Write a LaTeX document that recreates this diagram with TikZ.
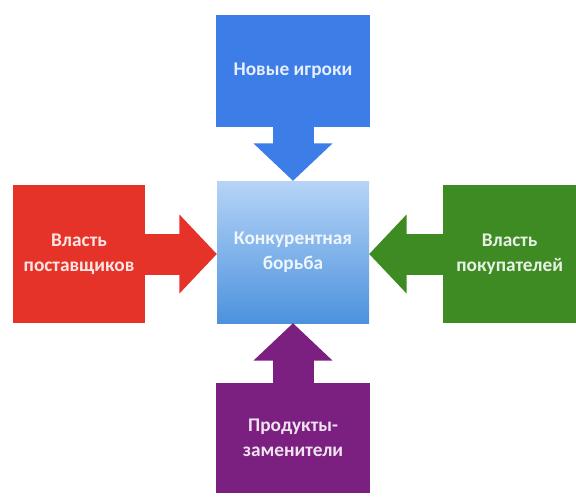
\documentclass[tikz,border=0pt]{standalone}
\usepackage{fontspec}
\setmainfont{Carlito}
\usepackage{tikz}
\usetikzlibrary{arrows.meta,positioning,calc,backgrounds}
\definecolor{newblue}{RGB}{60,125,232}
\definecolor{supred}{RGB}{230,51,41}
\definecolor{buygreen}{RGB}{62,139,36}
\definecolor{subpurple}{RGB}{123,31,128}
\definecolor{ctrtop}{RGB}{182,212,247}
\definecolor{ctrbot}{RGB}{76,146,221}

\begin{document}
\begin{tikzpicture}[
  % Force box
  bx/.style    = {minimum width=4.6cm, minimum height=4.14cm, inner sep=2pt,
                  align=center, font=\fontsize{16.5}{21}\selectfont\bfseries,
                  text=white, text opacity=0.88},
  % Centre box with vertical gradient
  ctr/.style   = {bx, top color=ctrtop, bottom color=ctrbot,
                  minimum width=4.56cm, minimum height=4.26cm},
  % Shaft laid under box and head, so the arrow has no seams
  shaft/.style = {line width=1.23cm, shorten >=0.8cm},
  % Block arrow
  barr/.style  = {line width=1.23cm,
                  -{Triangle[length=1.12cm,width=2.37cm,line width=0pt]}}
]
\useasboundingbox (0,0) rectangle (17.28,-14.94);

% Boxes (centre and the four forces)
\node[ctr](CB)  at (8.79, -7.56){Конкурентная\\борьба};
\node[bx, fill=newblue, minimum height=3.36cm](NP) at (8.79, -2.13){Новые игроки};
\node[bx, fill=supred, minimum width=3.96cm](SP)   at (2.37, -7.62){Власть\\поставщиков};
\node[bx, fill=buygreen, minimum width=3.99cm](BP) at (15.29,-7.62){Власть\\покупателей};
\node[bx, fill=subpurple, minimum height=3.30cm](SB) at (8.79,-13.14){Продукты-\\заменители};

% Shafts behind everything
\begin{scope}[on background layer]
\draw[shaft, newblue](NP.center)--(NP.center |- CB.north);
\draw[shaft, supred](SP.center)--(SP.center -| CB.west);
\draw[shaft, buygreen](BP.center)--(BP.center -| CB.east);
\draw[shaft, subpurple](SB.center)--(SB.center |- CB.south);
\end{scope}

% Block arrows into the centre
\draw[barr, newblue](NP.south)--(NP.south |- CB.north);
\draw[barr, supred](SP.east)--(SP.east -| CB.west);
\draw[barr, buygreen](BP.west)--(BP.west -| CB.east);
\draw[barr, subpurple](SB.north)--(SB.north |- CB.south);

\end{tikzpicture}
\end{document}
